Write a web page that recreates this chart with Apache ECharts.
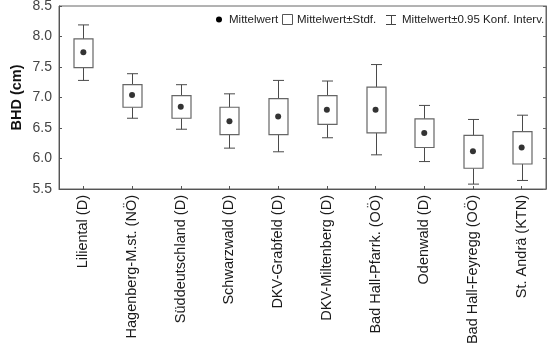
<!DOCTYPE html>
<html>
<head>
<meta charset="utf-8">
<script src="https://cdn.jsdelivr.net/npm/echarts@6/dist/echarts.min.js"></script>
<style>html,body{margin:0;padding:0;background:#fff}#c{width:553px;height:349px}</style>
</head>
<body>
<div id="c"></div>
<script>
var categories = ['Liliental (D)', 'Hagenberg-M.st. (NÖ)', 'Süddeutschland (D)', 'Schwarzwald (D)', 'DKV-Grabfeld (D)', 'DKV-Miltenberg (D)', 'Bad Hall-Pfarrk. (OÖ)', 'Odenwald (D)', 'Bad Hall-Feyregg (OÖ)', 'St. Andrä (KTN)'];
var meanValues = [7.74, 7.04, 6.85, 6.61, 6.69, 6.80, 6.80, 6.42, 6.12, 6.18];
var sdLow  = [7.49, 6.84, 6.66, 6.39, 6.39, 6.56, 6.42, 6.18, 5.84, 5.91];
var sdHigh = [7.96, 7.21, 7.03, 6.84, 6.98, 7.03, 7.17, 6.65, 6.38, 6.44];
var ciLow  = [7.28, 6.66, 6.48, 6.17, 6.11, 6.34, 6.06, 5.95, 5.58, 5.64];
var ciHigh = [8.19, 7.39, 7.21, 7.06, 7.28, 7.27, 7.54, 6.87, 6.64, 6.71];
var yTicks = {min: 5.5, max: 8.5, interval: 0.5};

var FONT = 'Liberation Sans, Arial, sans-serif';
var boxData = categories.map(function (c, i) { return [i, ciLow[i], sdLow[i], sdHigh[i], ciHigh[i]]; });
var meanData = categories.map(function (c, i) { return [i, meanValues[i]]; });

var chart = echarts.init(document.getElementById('c'), null, {renderer: 'canvas'});
chart.setOption({
  animation: false,
  backgroundColor: '#fff',
  grid: {left: 59, right: 7, top: 6, bottom: 160, outerBoundsMode: 'none', containLabel: false,
    show: true, borderColor: '#666', borderWidth: 1, backgroundColor: 'transparent'},
  xAxis: {
    type: 'category', data: categories, boundaryGap: true,
    axisLine: {lineStyle: {color: '#555', width: 1}},
    axisTick: {show: true, alignWithLabel: true, inside: true, length: 3, lineStyle: {color: '#555'}},
    axisLabel: {rotate: 90, fontSize: 14.5, color: '#1a1a1a', fontFamily: FONT, margin: 6, interval: 0}
  },
  yAxis: [{
    type: 'value', min: yTicks.min, max: yTicks.max, interval: yTicks.interval,
    name: 'BHD (cm)', nameLocation: 'middle', nameGap: 35, nameMoveOverlap: false,
    nameTextStyle: {fontSize: 14.5, fontWeight: 'bold', color: '#111', fontFamily: FONT},
    axisLine: {show: true, lineStyle: {color: '#555'}},
    axisTick: {show: true, inside: true, length: 3, lineStyle: {color: '#555'}},
    splitLine: {show: false},
    axisLabel: {fontSize: 14, color: '#444', fontFamily: FONT, margin: 7, formatter: function (v) { return v.toFixed(1); }}
  }, {
    type: 'value', position: 'right', min: yTicks.min, max: yTicks.max, interval: yTicks.interval,
    axisLine: {show: true, lineStyle: {color: '#666'}},
    axisTick: {show: true, inside: true, length: 3, lineStyle: {color: '#666'}},
    axisLabel: {show: false}, splitLine: {show: false}
  }],
  series: [{
    name: 'Mittelwert±Stdf.',
    type: 'custom',
    data: boxData,
    renderItem: function (params, api) {
      var x = api.value(0);
      var pLow = api.coord([x, api.value(1)]);
      var pQ1 = api.coord([x, api.value(2)]);
      var pQ3 = api.coord([x, api.value(3)]);
      var pHigh = api.coord([x, api.value(4)]);
      var cx = Math.round(pQ1[0]) + 0.5;
      var bw = 19, cw = 11;
      var ls = {stroke: '#4a4a4a', lineWidth: 1};
      return {
        type: 'group',
        children: [
          {type: 'line', shape: {x1: cx, y1: pLow[1], x2: cx, y2: pQ1[1]}, style: ls},
          {type: 'line', shape: {x1: cx, y1: pQ3[1], x2: cx, y2: pHigh[1]}, style: ls},
          {type: 'line', shape: {x1: cx - cw / 2, y1: pLow[1], x2: cx + cw / 2, y2: pLow[1]}, style: ls},
          {type: 'line', shape: {x1: cx - cw / 2, y1: pHigh[1], x2: cx + cw / 2, y2: pHigh[1]}, style: ls},
          {type: 'rect', shape: {x: cx - bw / 2, y: pQ3[1], width: bw, height: pQ1[1] - pQ3[1]},
            style: {fill: '#fff', stroke: '#666', lineWidth: 1.2}}
        ]
      };
    },
    z: 2
  }, {
    name: 'Mittelwert',
    type: 'scatter',
    data: meanData,
    symbol: 'circle', symbolSize: 6,
    itemStyle: {color: '#000'},
    z: 3
  }],
  graphic: [
    {type: 'circle', shape: {cx: 219, cy: 19.5, r: 3}, style: {fill: '#000'}},
    {type: 'text', x: 229, y: 20, style: {text: 'Mittelwert', font: '11.5px ' + FONT, fill: '#222', textVerticalAlign: 'middle'}},
    {type: 'rect', shape: {x: 282.5, y: 14.5, width: 10, height: 10}, style: {fill: '#fff', stroke: '#555', lineWidth: 1}},
    {type: 'text', x: 297, y: 20, style: {text: 'Mittelwert±Stdf.', font: '11.5px ' + FONT, fill: '#222', textVerticalAlign: 'middle'}},
    {type: 'polyline', shape: {points: [[386, 15.5], [396, 15.5]]}, style: {stroke: '#444', lineWidth: 1}},
    {type: 'polyline', shape: {points: [[386, 24.5], [396, 24.5]]}, style: {stroke: '#444', lineWidth: 1}},
    {type: 'polyline', shape: {points: [[391.5, 15.5], [391.5, 24.5]]}, style: {stroke: '#444', lineWidth: 1}},
    {type: 'text', x: 402, y: 20, style: {text: 'Mittelwert±0.95 Konf. Interv.', font: '11.5px ' + FONT, fill: '#222', textVerticalAlign: 'middle'}}
  ]
});
</script>
</body>
</html>
